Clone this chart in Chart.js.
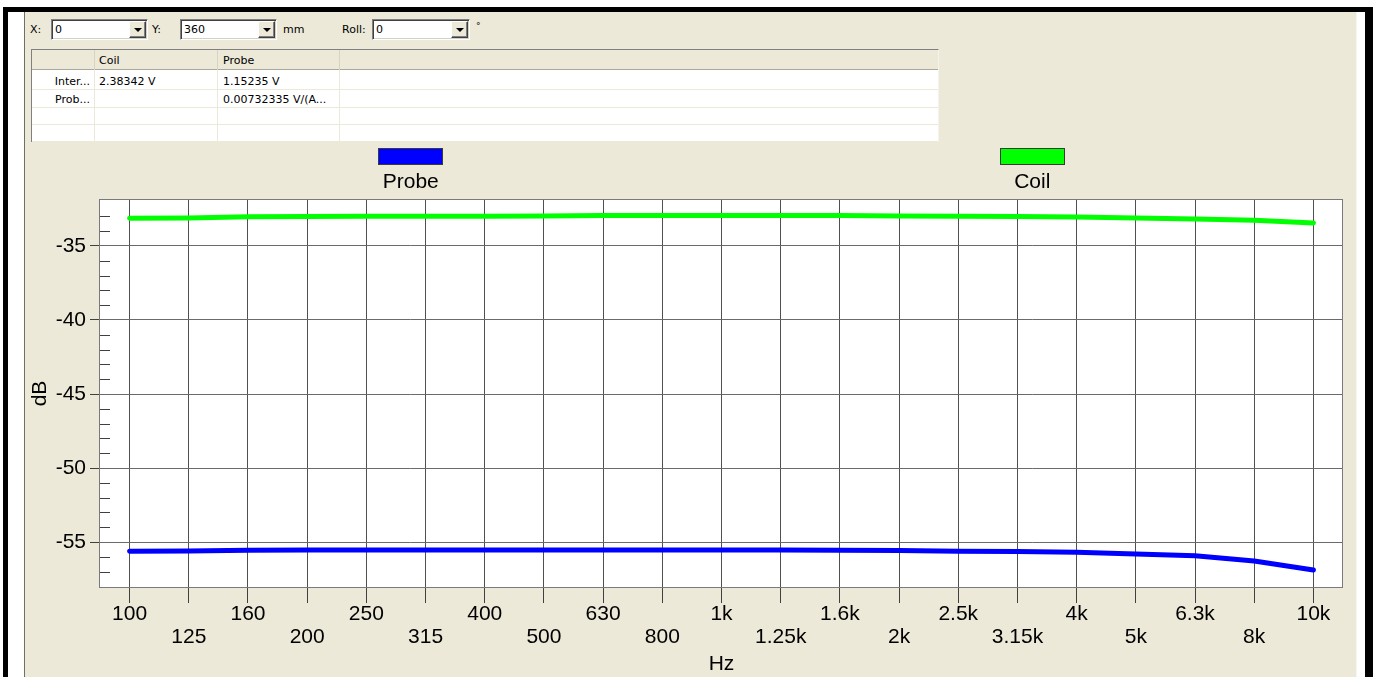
<!DOCTYPE html>
<html>
<head>
<meta charset="utf-8">
<script src="https://cdn.jsdelivr.net/npm/chart.js@4.4.0/dist/chart.umd.min.js"></script>
<style>
html,body{margin:0;padding:0;background:#fff;width:1373px;height:677px;overflow:hidden;position:relative;font-family:"DejaVu Sans",sans-serif;}
.abs{position:absolute}
#blackTop{left:3px;top:7px;width:1370px;height:5px;background:#000}
#blackLeft{left:3px;top:7px;width:5px;height:670px;background:#000}
#blackRight{left:1365px;top:7px;width:8px;height:670px;background:#000}
#panel{left:24px;top:12px;width:1333px;height:665px;background:#ECE9D8;border-left:1px solid #716F64;border-right:1px solid #F7F6F0;box-sizing:border-box}
.lbl{position:absolute;top:23px;font-size:11px;line-height:13px;color:#000;white-space:nowrap}
.combo{position:absolute;top:19px;height:21px;box-sizing:border-box;background:#fff;border:1px solid;border-color:#808080 #fff #fff #808080;box-shadow:inset 1px 1px 0 #404040, inset -1px -1px 0 #D4D0C8}
.combo .val{position:absolute;left:3px;top:3px;font-size:11px;line-height:13px;color:#000}
.combo .btn{position:absolute;right:1px;top:1px;width:17px;height:17px;box-sizing:border-box;background:#ECE9D8;border:1px solid;border-color:#fff #404040 #404040 #fff;box-shadow:inset -1px -1px 0 #808080}
.combo .btn i{position:absolute;left:4px;top:6px;width:0;height:0;border-top:4px solid #000;border-left:4px solid transparent;border-right:4px solid transparent}
#tbl{left:31px;top:49px;width:908px;height:93px;background:#fff;border-left:1px solid #808080;border-top:1px solid #808080;border-right:1px solid #F4F3EE;box-sizing:border-box;font-size:11px;color:#000}
#tbl .hdr{position:absolute;left:0;top:0;right:0;height:20px;background:#ECE9D8;border-bottom:1px solid #ACA899;box-sizing:border-box}
#tbl .vl{position:absolute;width:1px;background:#ECE9D8}
#tbl .hl{position:absolute;left:0;right:0;height:1px;background:#ECE9D8}
#tbl .t{position:absolute;line-height:13px;white-space:nowrap}
#chartBox{position:absolute;left:25px;top:140px;width:1331px;height:537px}
canvas{display:block}
</style>
</head>
<body>
<div id="blackTop" class="abs"></div>
<div id="blackLeft" class="abs"></div>
<div id="blackRight" class="abs"></div>
<div id="panel" class="abs"></div>

<span class="lbl" style="left:30px">X:</span>
<div class="combo" style="left:51px;width:97px"><span class="val">0</span><div class="btn"><i></i></div></div>
<span class="lbl" style="left:152px">Y:</span>
<div class="combo" style="left:180px;width:97px"><span class="val">360</span><div class="btn"><i></i></div></div>
<span class="lbl" style="left:283px">mm</span>
<span class="lbl" style="left:342px">Roll:</span>
<div class="combo" style="left:372px;width:98px"><span class="val">0</span><div class="btn"><i></i></div></div>
<span class="lbl" style="left:476px;top:20px;font-size:9px">°</span>

<div id="tbl" class="abs">
  <div class="hdr"></div>
  <div class="vl" style="left:62px;top:0;height:92px;background:#D8D4C4"></div>
  <div class="vl" style="left:185px;top:0;height:92px;background:#D8D4C4"></div>
  <div class="vl" style="left:307px;top:0;height:92px;background:#D8D4C4"></div>
  <div class="vl" style="left:62px;top:20px;height:72px"></div>
  <div class="vl" style="left:185px;top:20px;height:72px"></div>
  <div class="vl" style="left:307px;top:20px;height:72px"></div>
  <div class="hl" style="top:39px"></div>
  <div class="hl" style="top:57px"></div>
  <div class="hl" style="top:74px"></div>
  <div class="hl" style="top:91px"></div>
  <span class="t" style="left:67px;top:4px">Coil</span>
  <span class="t" style="left:191px;top:4px">Probe</span>
  <span class="t" style="right:848px;top:25px">Inter...</span>
  <span class="t" style="left:67px;top:25px">2.38342 V</span>
  <span class="t" style="left:191px;top:25px">1.15235 V</span>
  <span class="t" style="right:848px;top:43px">Prob...</span>
  <span class="t" style="left:191px;top:43px">0.00732335 V/(A...</span>
</div>

<div id="chartBox"><canvas id="c" width="1331" height="537"></canvas></div>

<script>
// ---- data ----
const categories = ['100','125','160','200','250','315','400','500','630','800','1k','1.25k','1.6k','2k','2.5k','3.15k','4k','5k','6.3k','8k','10k'];
const probeValues = [-55.61,-55.60,-55.55,-55.54,-55.54,-55.54,-55.54,-55.54,-55.54,-55.54,-55.54,-55.54,-55.55,-55.57,-55.62,-55.64,-55.69,-55.80,-55.92,-56.28,-56.89];
const coilValues  = [-33.13,-33.12,-33.03,-33.01,-33.00,-33.00,-32.99,-32.98,-32.95,-32.94,-32.94,-32.94,-32.95,-32.98,-33.00,-33.01,-33.05,-33.11,-33.18,-33.27,-33.45];
const seriesNames = ['Probe','Coil'];
const seriesColors = ['#0000FF','#00FF00'];
const yLabelValues = [-35,-40,-45,-50,-55];
const yMin = -58.1, yMax = -31.83;
const xTitle = 'Hz', yTitle = 'dB';

const FONT = '"Liberation Sans", Arial, sans-serif';
const isMajor = v => yLabelValues.includes(v);

const decorPlugin = {
  id: 'decor',
  beforeDraw(chart) {
    const {ctx, chartArea: a} = chart;
    ctx.save();
    ctx.fillStyle = '#fff';
    ctx.fillRect(a.left, a.top, a.right - a.left, a.bottom - a.top);
    ctx.restore();
  },
  beforeDatasetsDraw(chart) {
    const {ctx, chartArea: a, scales: {y}} = chart;
    ctx.save();
    ctx.lineWidth = 1;
    ctx.strokeStyle = '#404040';
    y.ticks.forEach(t => {
      if (isMajor(t.value)) return;
      const py = Math.round(y.getPixelForValue(t.value)) + 0.5;
      if (py < a.top + 4 || py > a.bottom - 4) return;
      ctx.beginPath();
      ctx.moveTo(a.left, py);
      ctx.lineTo(a.left + 10, py);
      ctx.stroke();
    });
    ctx.strokeStyle = '#7A7A7A';
    ctx.strokeRect(Math.round(a.left) - 0.5, Math.round(a.top) + 0.5, Math.round(a.right - a.left), Math.round(a.bottom - a.top) - 1);
    ctx.restore();
  },
  afterDraw(chart) {
    const {ctx, chartArea: a} = chart;
    const ds = chart.data.datasets;
    const n = ds.length;
    const w = (a.right - a.left) / n;
    ctx.save();
    ds.forEach((d, i) => {
      const cx = a.left + w * (i + 0.5);
      const bw = 65, bh = 17;
      const bx = Math.round(cx - bw / 2);
      ctx.fillStyle = d.borderColor;
      ctx.fillRect(bx, 8, bw, bh);
      ctx.strokeStyle = '#3A3A3A';
      ctx.lineWidth = 1;
      ctx.strokeRect(bx + 0.5, 8.5, bw - 1, bh - 1);
      ctx.fillStyle = '#000';
      ctx.font = '21px ' + FONT;
      ctx.textAlign = 'center';
      ctx.textBaseline = 'middle';
      ctx.fillText(d.label, cx, 42);
    });
    ctx.restore();
  }
};

new Chart(document.getElementById('c'), {
  type: 'line',
  data: {
    labels: categories,
    datasets: [
      { label: seriesNames[0], data: probeValues, borderColor: seriesColors[0], backgroundColor: seriesColors[0] },
      { label: seriesNames[1], data: coilValues, borderColor: seriesColors[1], backgroundColor: seriesColors[1] }
    ]
  },
  options: {
    responsive: false,
    animation: false,
    layout: { padding: { top: 59, right: 13, left: 0, bottom: 0 } },
    elements: {
      point: { radius: 0, hoverRadius: 0 },
      line: { borderWidth: 5, tension: 0, borderCapStyle: 'round', borderJoinStyle: 'round' }
    },
    plugins: { legend: { display: false }, tooltip: { enabled: false } },
    events: [],
    scales: {
      x: {
        type: 'category',
        offset: true,
        afterFit(s) { s.height = 89; },
        border: { display: false },
        grid: { color: '#505050', lineWidth: 1, drawTicks: true, tickLength: 15, tickColor: '#404040', offset: false },
        ticks: {
          autoSkip: false, maxRotation: 0, minRotation: 0, padding: 0, color: '#000',
          font: { family: FONT, size: 21, lineHeight: 1.07 },
          callback(v, i) { const l = categories[i]; return i % 2 === 0 ? [l] : ['', l]; }
        },
        title: { display: true, text: xTitle, color: '#000', font: { family: FONT, size: 21, lineHeight: 1.2 }, padding: { top: 0, bottom: 0 } }
      },
      y: {
        type: 'linear',
        min: yMin, max: yMax,
        afterFit(s) { s.width = 75; },
        border: { display: false },
        grid: {
          drawTicks: true, tickLength: 10,
          color: c => isMajor(c.tick && c.tick.value) ? '#6A6A6A' : 'rgba(0,0,0,0)',
          tickColor: c => isMajor(c.tick && c.tick.value) ? '#404040' : 'rgba(0,0,0,0)'
        },
        ticks: {
          stepSize: 1, includeBounds: false, autoSkip: false, padding: 4, color: '#000',
          font: { family: FONT, size: 21 },
          callback(v) { return isMajor(v) ? String(v) : ''; }
        },
        title: { display: true, text: yTitle, color: '#000', font: { family: FONT, size: 21, lineHeight: 1.2 }, padding: { top: 3, bottom: 0 } }
      }
    }
  },
  plugins: [decorPlugin]
});
</script>
</body>
</html>
